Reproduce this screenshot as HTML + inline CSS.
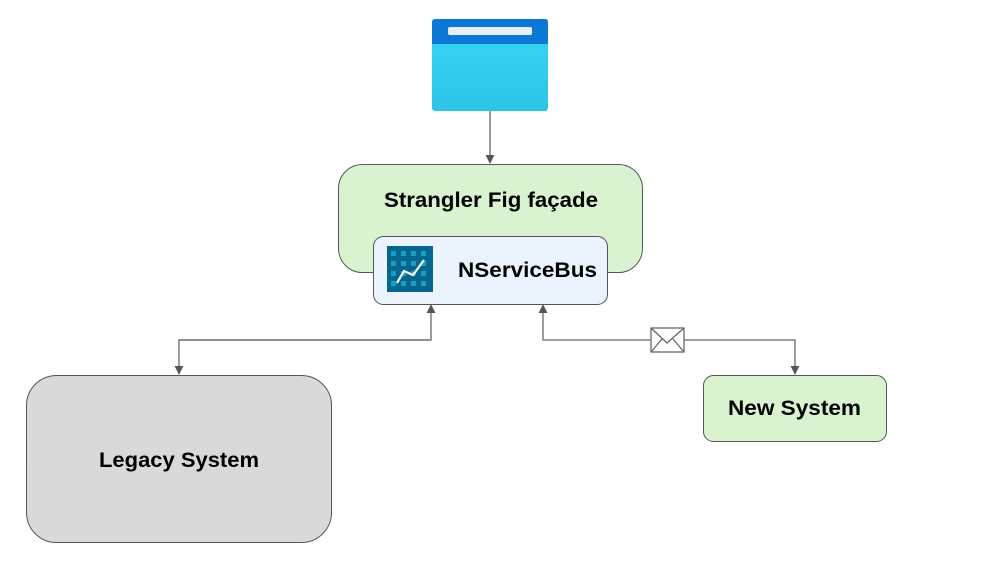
<!DOCTYPE html>
<html><head><meta charset="utf-8"><style>
html,body{margin:0;padding:0;background:#fff;}
body{width:983px;height:561px;overflow:hidden;}
text{font-family:"Liberation Sans",sans-serif;font-weight:bold;fill:#000;}
</style></head><body>
<svg width="983" height="561" viewBox="0 0 983 561" xmlns="http://www.w3.org/2000/svg">
<defs>
<linearGradient id="bg" x1="0" y1="0" x2="0" y2="1"><stop offset="0" stop-color="#36d6f5"/><stop offset="1" stop-color="#2ec4e6"/></linearGradient>
<marker id="ar" viewBox="0 0 10 10" refX="9" refY="5" markerWidth="9" markerHeight="9" markerUnits="userSpaceOnUse" orient="auto"><path d="M0,0 L10,5 L0,10z" fill="#555"/></marker>
</defs>
<rect x="432" y="19" width="116" height="92" rx="3" fill="url(#bg)"/>
<path d="M435,19 h110 a3,3 0 0 1 3,3 v22 h-116 v-22 a3,3 0 0 1 3,-3z" fill="#0a78d4"/>
<rect x="448" y="27" width="84" height="8" rx="2" fill="#e8eef6"/>
<g stroke="#666" stroke-width="1.3" fill="none">
<line x1="490" y1="111" x2="490" y2="163" marker-end="url(#ar)"/>
<polyline points="179,340 431,340 431,305" marker-end="url(#ar)"/>
<polyline points="431,340 179,340 179,374" marker-end="url(#ar)"/>
<polyline points="650,340 543,340 543,305" marker-end="url(#ar)"/>
<polyline points="684,340 795,340 795,374" marker-end="url(#ar)"/>
</g>
<rect x="651" y="328" width="33" height="24" fill="#fff" stroke="#666" stroke-width="1.3"/>
<path d="M651,328 L667,343 L684,328 M651,352 L662,339 M684,352 L673,339" stroke="#666" stroke-width="1.3" fill="none"/>
<rect x="338.5" y="164.5" width="304" height="108" rx="24" fill="#d9f2d0" stroke="#555" stroke-width="1"/>
<text x="384" y="207" font-size="21" textLength="214" lengthAdjust="spacingAndGlyphs">Strangler Fig façade</text>
<rect x="373.5" y="236.5" width="234" height="68" rx="10" fill="#ebf3fd" stroke="#555" stroke-width="1"/>
<rect x="387" y="246" width="46" height="46" fill="#06678e"/>
<g fill="#1b9cc0">
<rect x="391" y="251" width="5" height="5"/><rect x="401" y="251" width="5" height="5"/><rect x="411" y="251" width="5" height="5"/><rect x="421" y="251" width="5" height="5"/>
<rect x="391" y="261" width="5" height="5"/><rect x="401" y="261" width="5" height="5"/><rect x="411" y="261" width="5" height="5"/><rect x="421" y="261" width="5" height="5"/>
<rect x="391" y="271" width="5" height="5"/><rect x="401" y="271" width="5" height="5"/><rect x="411" y="271" width="5" height="5"/><rect x="421" y="271" width="5" height="5"/>
<rect x="391" y="281" width="5" height="5"/><rect x="401" y="281" width="5" height="5"/><rect x="411" y="281" width="5" height="5"/><rect x="421" y="281" width="5" height="5"/>
</g>
<polyline points="397,283 404,271 413,275 424,260" stroke="#fff" stroke-width="2.2" fill="none"/>
<text x="458" y="277" font-size="21" textLength="139" lengthAdjust="spacingAndGlyphs">NServiceBus</text>
<rect x="26.5" y="375.5" width="305" height="167" rx="30" fill="#d9d9d9" stroke="#555" stroke-width="1"/>
<text x="99" y="467" font-size="21" textLength="160" lengthAdjust="spacingAndGlyphs">Legacy System</text>
<rect x="703.5" y="375.5" width="183" height="66" rx="10" fill="#d9f2d0" stroke="#555" stroke-width="1"/>
<text x="728" y="415" font-size="21" textLength="133" lengthAdjust="spacingAndGlyphs">New System</text>
</svg>
</body></html>
